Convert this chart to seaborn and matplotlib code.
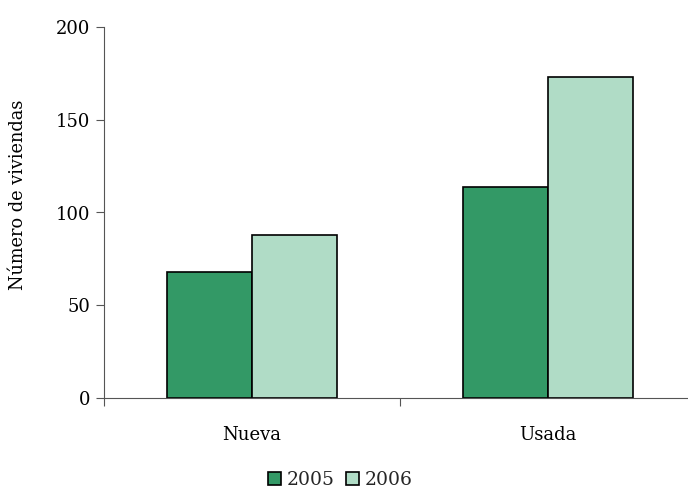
import pandas as pd
import matplotlib.pyplot as plt
import seaborn as sns

categories = ['Nueva', 'Usada']
years = ['2005', '2006']
values_2005 = [68, 114]
values_2006 = [88, 173]
colors = ['#339966', '#b0dcc6']

df = pd.DataFrame({
    'tipo': categories * 2,
    'anio': [years[0]] * 2 + [years[1]] * 2,
    'valor': values_2005 + values_2006,
})

sns.set_style('white')
plt.rcParams['font.family'] = ['DejaVu Serif']

fig = plt.figure(figsize=(6.88, 4.9), dpi=100)
ax = fig.add_axes([104 / 688, 92 / 490, 592 / 688, 371 / 490])

sns.barplot(
    data=df, x='tipo', y='valor', hue='anio',
    palette=colors, width=0.574, ax=ax,
    edgecolor='black', linewidth=1.2, saturation=1,
)

ax.set_xlim(-0.5, 1.5)
ax.set_ylim(0, 200)
ax.set_yticks([0, 50, 100, 150, 200])
ax.set_xticks([-0.5, 0.5, 1.5], minor=False)
ax.set_xticklabels(['', '', ''])
ax.set_xticks([0, 1], minor=True)
ax.set_xticklabels(categories, minor=True)
ax.tick_params(axis='x', which='minor', length=0, pad=20, labelsize=13,
               labelcolor='black')
ax.tick_params(axis='x', which='major', length=6, direction='out', color='#555555')
ax.tick_params(axis='y', length=6, direction='out', labelsize=13, pad=4,
               color='#555555', labelcolor='black')
ax.tick_params(left=True, bottom=True)

for side in ['top', 'right']:
    ax.spines[side].set_visible(False)
ax.spines['left'].set_color('#555555')
ax.spines['bottom'].set_color('#555555')

ax.set_xlabel('')
ax.set_ylabel('Número de viviendas', fontsize=12.8, color='black')
ax.yaxis.set_label_coords(-0.13, 0.548)

leg = ax.legend(
    loc='center', bbox_to_anchor=(340 / 688, 10 / 490),
    bbox_transform=fig.transFigure, ncol=2, frameon=False,
    fontsize=13.5, handlelength=0.7, handleheight=0.7,
    handletextpad=0.3, columnspacing=0.6,
)

plt.savefig('out.png', dpi=100)
